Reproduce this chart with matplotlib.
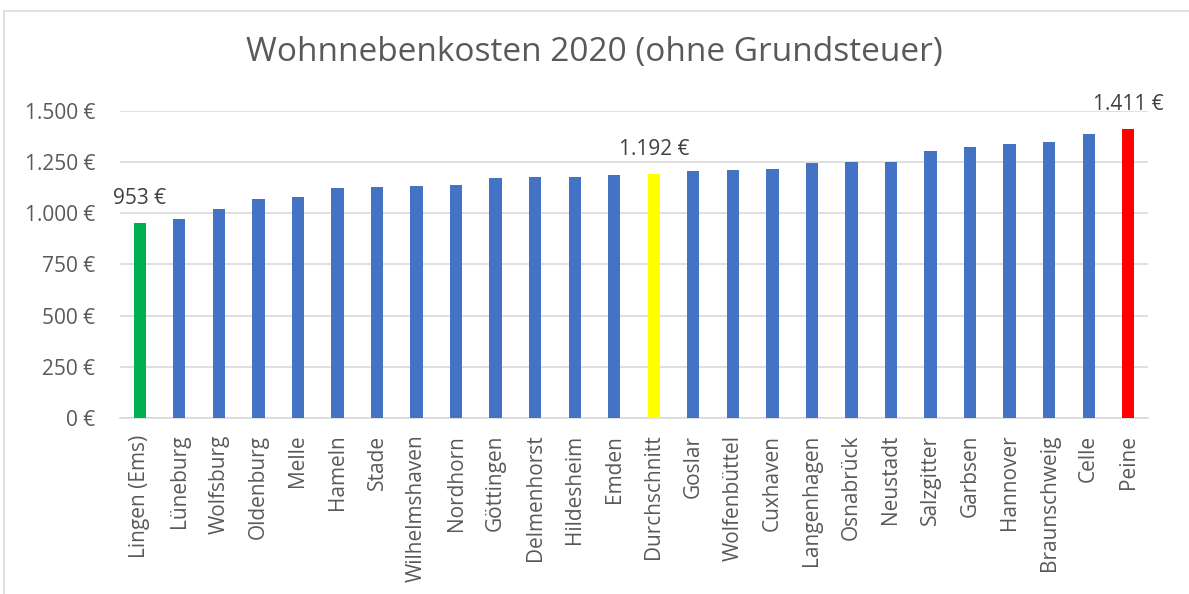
import matplotlib
matplotlib.use("Agg")
import matplotlib.pyplot as plt
from matplotlib.patches import Rectangle
from matplotlib.ticker import FuncFormatter

plt.rcParams['font.family'] = ['Open Sans', 'DejaVu Sans']

cities = ["Lingen (Ems)", "Lüneburg", "Wolfsburg", "Oldenburg", "Melle", "Hameln", "Stade",
          "Wilhelmshaven", "Nordhorn", "Göttingen", "Delmenhorst", "Hildesheim", "Emden",
          "Durchschnitt", "Goslar", "Wolfenbüttel", "Cuxhaven", "Langenhagen", "Osnabrück",
          "Neustadt", "Salzgitter", "Garbsen", "Hannover", "Braunschweig", "Celle", "Peine"]
costs = [953, 972, 1020, 1068, 1078, 1121, 1130, 1132, 1137, 1170, 1174, 1176, 1186,
         1192, 1204, 1209, 1214, 1246, 1248, 1251, 1305, 1324, 1338, 1349, 1388, 1411]
yticks = [0, 250, 500, 750, 1000, 1250, 1500]
labeled = {"Lingen (Ems)": "#00B050", "Durchschnitt": "#FFFF00", "Peine": "#FF0000"}
title = "Wohnnebenkosten 2020 (ohne Grundsteuer)"

def fmt(v):
    return f"{int(v):,}".replace(",", ".") + " €"

colors = [labeled.get(c, "#4472C4") for c in cities]

fig = plt.figure(figsize=(11.89, 5.94), dpi=100)
ax = fig.add_axes([120/1189, 1-418/594, (1148-120)/1189, (418-110.7)/594])

x = list(range(len(cities)))
ax.bar(x, costs, width=0.31, color=colors, zorder=3)
ax.set_xlim(-0.5, len(cities)-0.5)
ax.set_ylim(0, 1500)
ax.set_yticks(yticks)
ax.yaxis.set_major_formatter(FuncFormatter(lambda v, p: fmt(v)))
ax.grid(axis='y', color='#d9d9d9', linewidth=1.2, zorder=0)
for s in ['top', 'right', 'left']:
    ax.spines[s].set_visible(False)
ax.spines['bottom'].set_color('#d9d9d9')
ax.spines['bottom'].set_linewidth(1.2)
ax.tick_params(axis='both', length=0, colors='#595959', labelsize=15)
ax.tick_params(axis='y', pad=18)
ax.tick_params(axis='x', pad=12)
ax.set_xticks(x)
ax.set_xticklabels(cities, rotation=90)

for i, (c, v) in enumerate(zip(cities, costs)):
    if c in labeled:
        ax.annotate(fmt(v), (i, v), xytext=(0, 10), textcoords='offset points',
                    ha='center', va='bottom', fontsize=15, color='#404040',
                    annotation_clip=False)

fig.text(0.5, 1-52/594, title, ha='center', va='center', fontsize=24, color='#595959')

fig.patches.append(Rectangle((4/1189, -0.1), 1.2, 1-11/594+0.1, transform=fig.transFigure,
                             fill=False, edgecolor='#d9d9d9', linewidth=1.2))

fig.savefig("out.png", dpi=100)
